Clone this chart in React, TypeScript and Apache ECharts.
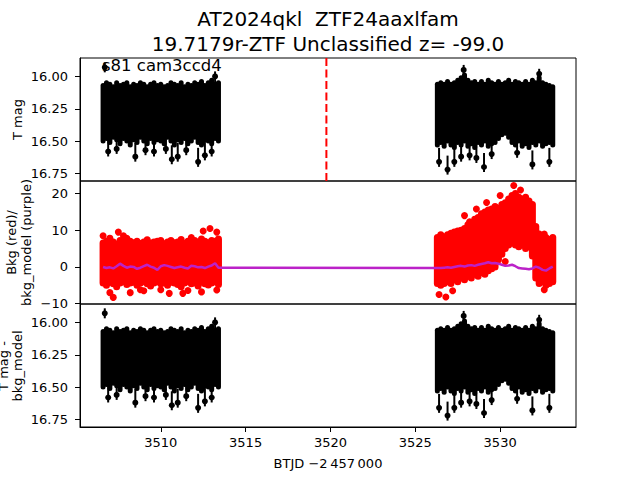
import React, { useEffect, useRef } from 'react';
import * as echarts from 'echarts';

const FONT = 'DejaVu Sans';

const titleLine1 = 'AT2024qkl  ZTF24aaxlfam';
const titleLine2 = '19.7179r-ZTF Unclassified z= -99.0';
const sectorLabel = 's81 cam3ccd4';
const xAxisLabel = 'BTJD \u22122\u2009457\u2009000';

const xTicks = [3510, 3515, 3520, 3525, 3530];
const magTicks = [16.0, 16.25, 16.5, 16.75];
const bkgTicks = [-10, 0, 10, 20];

const xMin = 3505.24;
const xMax = 3534.47;
const magMin = 15.858;
const magMax = 16.808;
const bkgMin = -10.1;
const bkgMax = 23.44;

const discoveryTime = 3519.76;

// time bins of the two observing segments
const seg1Time = [3506.6, 3506.8, 3507.0, 3507.2, 3507.4, 3507.6, 3507.8, 3508.0, 3508.2, 3508.4, 3508.6, 3508.8, 3509.0, 3509.2, 3509.4, 3509.6, 3509.8, 3510.0, 3510.2, 3510.4, 3510.6, 3510.8, 3511.0, 3511.2, 3511.4, 3511.6, 3511.8, 3512.0, 3512.2, 3512.4, 3512.6, 3512.8, 3513.0, 3513.2, 3513.4];
const seg2Time = [3526.3, 3526.5, 3526.7, 3526.9, 3527.1, 3527.3, 3527.5, 3527.7, 3527.9, 3528.1, 3528.3, 3528.5, 3528.7, 3528.9, 3529.1, 3529.3, 3529.5, 3529.7, 3529.9, 3530.1, 3530.3, 3530.5, 3530.7, 3530.9, 3531.1, 3531.3, 3531.5, 3531.7, 3531.9, 3532.1, 3532.3, 3532.5, 3532.7, 3532.9, 3533.1];

// T mag envelope (upper / lower edge of the dense scatter)
const magTop1 = [16.07, 16.05, 16.06, 16.08, 16.05, 16.07, 16.06, 16.05, 16.08, 16.06, 16.07, 16.05, 16.06, 16.08, 16.06, 16.05, 16.07, 16.06, 16.08, 16.07, 16.05, 16.06, 16.07, 16.05, 16.08, 16.06, 16.07, 16.05, 16.06, 16.04, 16.07, 16.05, 16.03, 16.06, 16.05];
const magBottom1 = [16.50, 16.48, 16.51, 16.47, 16.49, 16.52, 16.48, 16.50, 16.53, 16.49, 16.51, 16.47, 16.50, 16.52, 16.48, 16.51, 16.49, 16.50, 16.52, 16.47, 16.50, 16.53, 16.49, 16.51, 16.48, 16.52, 16.50, 16.47, 16.51, 16.53, 16.49, 16.50, 16.52, 16.48, 16.50];
const magTop2 = [16.06, 16.05, 16.06, 16.04, 16.06, 16.05, 16.03, 16.01, 15.99, 16.03, 16.05, 16.04, 16.06, 16.04, 16.06, 16.03, 16.05, 16.06, 16.04, 16.06, 16.05, 16.03, 16.06, 16.04, 16.05, 16.06, 16.04, 16.06, 16.03, 16.05, 16.01, 16.05, 16.06, 16.07, 16.08];
const magBottom2 = [16.53, 16.51, 16.54, 16.50, 16.53, 16.55, 16.51, 16.53, 16.50, 16.54, 16.52, 16.55, 16.51, 16.53, 16.50, 16.54, 16.52, 16.51, 16.48, 16.45, 16.44, 16.47, 16.51, 16.53, 16.50, 16.54, 16.52, 16.55, 16.51, 16.53, 16.50, 16.54, 16.52, 16.51, 16.53];

// isolated T mag points with error bars
const magSpikes = [
  [3506.9, 16.58], [3507.4, 16.56], [3508.5, 16.62], [3509.1, 16.57], [3509.6, 16.58], [3510.3, 16.56],
  [3510.65, 16.64], [3511.0, 16.62], [3511.5, 16.57], [3512.2, 16.66], [3512.6, 16.61], [3513.0, 16.58],
  [3526.4, 16.66], [3526.9, 16.72], [3527.3, 16.66], [3527.7, 16.62], [3528.2, 16.61], [3528.6, 16.63],
  [3529.05, 16.70], [3529.5, 16.60], [3531.0, 16.59], [3531.9, 16.68], [3532.9, 16.66],
  [3527.85, 15.95], [3532.3, 15.98], [3513.2, 16.00],
];
const magOutliers = [[3506.7, 15.93]];

// background envelope (red)
const bkgTop1 = [6.5, 7.0, 7.8, 6.8, 6.2, 7.2, 6.8, 6.5, 7.0, 6.6, 7.0, 6.4, 6.8, 7.4, 6.5, 6.8, 7.0, 7.2, 6.3, 6.8, 7.2, 6.6, 6.8, 7.5, 6.4, 7.0, 6.6, 7.2, 6.8, 7.6, 7.0, 6.6, 7.2, 7.0, 7.6];
const bkgBottom1 = [-4.4, -5.0, -4.2, -4.6, -5.4, -4.4, -4.0, -4.8, -4.4, -4.2, -5.0, -4.4, -4.0, -4.6, -5.2, -4.4, -4.0, -4.6, -4.4, -5.0, -4.2, -4.4, -4.8, -5.4, -4.4, -4.0, -4.6, -4.4, -5.2, -4.2, -4.6, -4.9, -4.4, -4.0, -4.8];
const bkgTop2 = [8.0, 8.8, 8.2, 8.8, 9.2, 9.5, 9.8, 10.0, 10.5, 11.5, 12.0, 13.0, 13.5, 14.5, 15.0, 15.5, 15.8, 16.5, 16.0, 17.0, 17.5, 18.5, 19.5, 20.0, 19.0, 18.5, 19.0, 18.0, 17.0, 11.0, 9.0, 8.5, 8.0, 7.5, 8.0];
const bkgBottom2 = [-4.5, -5.0, -4.5, -4.0, -4.5, -3.5, -4.0, -3.0, -3.5, -2.5, -3.0, -2.0, -2.5, -1.5, -2.0, -1.0, -0.5, 0.0, 2.0, 3.5, 5.0, 6.0, 6.5, 6.0, 5.5, 6.0, 5.0, 5.5, 3.0, -3.0, -4.5, -4.0, -5.0, -4.5, -4.0];

// isolated background points
const bkgSpikes = [
  [3506.6, 8.5], [3507.5, 9.5], [3507.8, 8.5], [3508.0, 7.8], [3511.8, 8.0], [3512.5, 9.8], [3512.9, 10.5], [3513.3, 9.5],
  [3507.0, -7.0], [3507.2, -8.3], [3508.2, -7.0], [3509.0, -6.5], [3510.0, -6.2], [3510.5, -7.2], [3511.3, -7.2],
  [3511.6, -6.4], [3512.4, -6.8], [3513.3, -6.3], [3508.8, -6.2],
  [3526.4, -7.5], [3526.8, -8.2], [3527.2, -6.5], [3527.9, 14.0], [3528.2, 12.3], [3528.6, 15.8], [3529.2, 17.6],
  [3530.0, 19.5], [3530.8, 22.2], [3531.2, 21.0], [3530.3, 1.5], [3532.6, -6.2], [3532.6, 9.0],
];

// background model (purple)
const bkgModel1 = [0.0, -0.3, -0.1, -0.4, 0.2, 0.9, 0.3, -0.2, 0.1, 0.0, -0.5, -0.2, 0.2, 0.6, 0.1, -0.2, -0.8, 0.2, 0.5, 0.3, 0.0, -0.3, -0.1, 0.1, -0.2, -0.4, 0.3, 0.2, -0.1, 0.0, -0.3, 0.1, 0.4, 1.0, -0.2];
const bkgModel2 = [-0.3, -0.3, -0.2, -0.1, -0.2, 0.0, 0.2, 0.3, 0.1, 0.4, 0.5, 0.3, 0.6, 0.8, 1.0, 1.3, 1.0, 1.1, 0.9, 0.6, 0.3, 0.4, 0.6, 0.2, -0.3, -0.4, -0.5, -0.6, -0.4, 0.1, -0.2, -0.8, -1.0, -0.4, 0.1];

const RED = '#ff0000';
const PURPLE = '#bb22c8';

const zip3 = (t: number[], a: number[], b: number[]) => t.map((v, i) => [v, a[i], b[i]]);
const zip2 = (t: number[], a: number[]) => t.map((v, i) => [v, a[i]]);

const magBand = zip3(seg1Time, magTop1, magBottom1).concat(zip3(seg2Time, magTop2, magBottom2));
const bkgBand = zip3(seg1Time, bkgTop1, bkgBottom1).concat(zip3(seg2Time, bkgTop2, bkgBottom2));
const bkgModel = zip2(seg1Time, bkgModel1).concat(zip2(seg2Time, bkgModel2));

const bandSeries = (data: number[][], idx: number, color: string, width: number, z: number) => ({
  type: 'custom',
  coordinateSystem: 'cartesian2d',
  xAxisIndex: idx,
  yAxisIndex: idx,
  data,
  silent: true,
  z,
  encode: { x: 0, y: [1, 2] },
  renderItem: (_p: any, api: any) => {
    const a = api.coord([api.value(0), api.value(1)]);
    const b = api.coord([api.value(0), api.value(2)]);
    return {
      type: 'line',
      shape: { x1: a[0], y1: a[1], x2: b[0], y2: b[1] },
      style: { stroke: color, lineWidth: width, lineCap: 'round' },
    };
  },
});

const spikeSeries = (data: number[][], idx: number, symmetric: boolean) => ({
  type: 'custom',
  coordinateSystem: 'cartesian2d',
  xAxisIndex: idx,
  yAxisIndex: idx,
  data,
  silent: true,
  z: 3,
  renderItem: (_p: any, api: any) => {
    const t = api.value(0);
    const p = api.coord([t, api.value(1)]);
    const c = api.coord([t, 16.3]);
    const dir = c[1] < p[1] ? -1 : 1;
    const near = symmetric ? 5 : 14;
    return {
      type: 'group',
      children: [
        { type: 'line', shape: { x1: p[0], y1: p[1] + dir * near, x2: p[0], y2: p[1] - dir * 5 }, style: { stroke: '#000', lineWidth: 2 } },
        { type: 'circle', shape: { cx: p[0], cy: p[1], r: 3 }, style: { fill: '#000' } },
      ],
    };
  },
});

const txt = { color: '#000', fontSize: 13, fontFamily: FONT };

const xAxisCfg = (gi: number, labels: boolean) => ({
  type: 'value',
  gridIndex: gi,
  min: xMin,
  max: xMax,
  axisLine: { show: labels, lineStyle: { color: '#000', width: 1 } },
  splitLine: { show: false },
  axisTick: { show: labels, length: 5, customValues: xTicks, lineStyle: { color: '#000', width: 1 } },
  axisLabel: { show: labels, customValues: xTicks, margin: 9, formatter: (v: number) => String(Math.round(v)), ...txt },
});

const yAxisCfg = (gi: number, min: number, max: number, ticks: number[], inverse: boolean, fmt: (v: number) => string) => ({
  type: 'value',
  gridIndex: gi,
  min,
  max,
  inverse,
  axisLine: { show: true, lineStyle: { color: '#000', width: 1 } },
  splitLine: { show: false },
  axisTick: { show: true, length: 5, customValues: ticks, lineStyle: { color: '#000', width: 1 } },
  axisLabel: { show: true, customValues: ticks, margin: 12, formatter: fmt, ...txt },
});

const gridCfg = (top: number) => ({
  left: 80, width: 496, top, height: 123, show: true, borderColor: '#000', borderWidth: 1, backgroundColor: 'transparent',
});

const rotText = (text: string, x: number, y: number) => ({
  type: 'text', x, y, rotation: Math.PI / 2, silent: true,
  style: { text, fontSize: 13, fontFamily: FONT, fill: '#000', align: 'center', verticalAlign: 'middle' },
});

const option: any = {
  animation: false,
  backgroundColor: '#ffffff',
  textStyle: { fontFamily: FONT },
  grid: [gridCfg(58), gridCfg(181), gridCfg(304)],
  xAxis: [xAxisCfg(0, false), xAxisCfg(1, false), xAxisCfg(2, true)],
  yAxis: [
    yAxisCfg(0, magMin, magMax, magTicks, true, (v) => v.toFixed(2)),
    yAxisCfg(1, bkgMin, bkgMax, bkgTicks, false, (v) => String(Math.round(v)).replace('-', '\u2212')),
    yAxisCfg(2, magMin, magMax, magTicks, true, (v) => v.toFixed(2)),
  ],
  series: [
    bandSeries(magBand, 0, '#000', 5, 2),
    spikeSeries(magSpikes, 0, false),
    spikeSeries(magOutliers, 0, true),
    {
      type: 'line', xAxisIndex: 0, yAxisIndex: 0, silent: true, z: 4, showSymbol: false,
      data: [[discoveryTime, magMin], [discoveryTime, magMax]],
      lineStyle: { color: RED, width: 2, type: [8, 3.5] },
    },
    bandSeries(bkgBand, 1, RED, 7, 2),
    {
      type: 'scatter', xAxisIndex: 1, yAxisIndex: 1, silent: true, z: 2, symbolSize: 7,
      data: bkgSpikes, itemStyle: { color: RED, opacity: 1 },
    },
    {
      type: 'line', xAxisIndex: 1, yAxisIndex: 1, silent: true, z: 5, showSymbol: false,
      data: bkgModel, lineStyle: { color: PURPLE, width: 2.5 },
    },
    bandSeries(magBand, 2, '#000', 5, 2),
    spikeSeries(magSpikes, 2, false),
    spikeSeries(magOutliers, 2, true),
  ],
  graphic: [
    { type: 'text', x: 328, y: 18.5, silent: true, style: { text: titleLine1, fontSize: 20, fontFamily: FONT, fill: '#000', align: 'center', verticalAlign: 'middle' } },
    { type: 'text', x: 328, y: 43.5, silent: true, style: { text: titleLine2, fontSize: 20, fontFamily: FONT, fill: '#000', align: 'center', verticalAlign: 'middle' } },
    { type: 'text', x: 102, y: 65, silent: true, z: 10, style: { text: sectorLabel, fontSize: 16.5, fontFamily: FONT, fill: '#000', align: 'left', verticalAlign: 'middle' } },
    rotText('T mag', 17.5, 119.5),
    rotText('Bkg (red)/', 11, 242.5),
    rotText('bkg_model (purple)', 26, 242.5),
    rotText('T mag -', 3, 366),
    rotText('bkg_model', 17, 366),
    { type: 'text', x: 328, y: 463.5, silent: true, style: { text: xAxisLabel, fontSize: 13, fontFamily: FONT, fill: '#000', align: 'center', verticalAlign: 'middle' } },
  ],
};

export default function App() {
  const ref = useRef<HTMLDivElement>(null);
  useEffect(() => {
    if (!ref.current) return;
    const chart = echarts.init(ref.current, null, { renderer: 'svg' });
    chart.setOption(option);
    return () => chart.dispose();
  }, []);
  return <div ref={ref} style={{ position: 'fixed', left: 0, top: 0, width: 640, height: 480, background: '#fff' }} />;
}
